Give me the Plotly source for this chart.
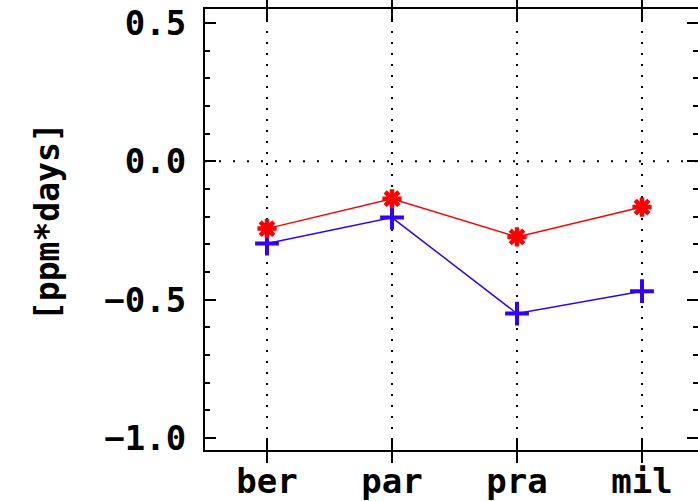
import plotly.graph_objects as go

categories = ["ber", "par", "pra", "mil"]
red_values = [-0.243, -0.135, -0.273, -0.165]
blue_values = [-0.297, -0.203, -0.550, -0.469]
y_tick_vals = [-1.0, -0.5, 0.0, 0.5]
y_tick_text = ["\u22121.0", "\u22120.5", "0.0", "0.5"]

xi = list(range(len(categories)))
FONT = dict(family="DejaVu Sans Mono", size=34, color="black", weight="bold")
BLUE = "#3300ff"
RED = "#ff0000"

fig = go.Figure()
fig.add_trace(go.Scatter(
    x=xi, y=blue_values, mode="lines+markers",
    line=dict(color=BLUE, width=1.5),
    marker=dict(symbol="cross-thin-open", size=17, line=dict(color=BLUE, width=4)),
    showlegend=False, hoverinfo="skip"))
fig.add_trace(go.Scatter(
    x=xi, y=red_values, mode="lines+markers",
    line=dict(color=RED, width=1.5),
    marker=dict(symbol="asterisk-open", size=16, line=dict(color=RED, width=4.5)),
    showlegend=False, hoverinfo="skip"))
# dummy trace to make the right-side tick axis exist
fig.add_trace(go.Scatter(x=xi, y=red_values, yaxis="y2", mode="none",
                         showlegend=False, hoverinfo="skip"))

yrange = [-1.043, 0.5506]
common_y = dict(
    range=yrange, tickmode="array", tickvals=y_tick_vals,
    ticks="inside", ticklen=11, tickwidth=2, tickcolor="black",
    minor=dict(dtick=0.1, tick0=0, ticks="inside", ticklen=5, tickwidth=2, tickcolor="black"),
    showgrid=False, zeroline=False, automargin=False,
)

fig.update_layout(
    width=698, height=501,
    margin=dict(l=205, r=0, t=9, b=51, autoexpand=False),
    paper_bgcolor="white", plot_bgcolor="white",
    font=FONT,
    xaxis=dict(
        range=[-0.496, 3.448], tickmode="array", tickvals=xi, ticktext=categories,
        ticks="inside", ticklen=11, tickwidth=2, tickcolor="black",
        showline=True, linecolor="black", linewidth=2, mirror="allticks",
        showgrid=True, gridcolor="black", gridwidth=2, griddash="2px,9px",
        zeroline=False, ticklabelstandoff=0, tickfont=FONT, automargin=False,
    ),
    yaxis=dict(
        **common_y, ticktext=y_tick_text,
        showline=True, linecolor="black", linewidth=2, mirror=False,
        ticklabelstandoff=10, tickfont=FONT,
    ),
    yaxis2=dict(
        **common_y, overlaying="y", side="right", showline=False,
        showticklabels=False,
    ),
    shapes=[dict(type="line", xref="paper", yref="y", x0=0, x1=1, y0=0, y1=0,
                 line=dict(color="black", width=2, dash="2px,12px"))],
    annotations=[dict(
        text="[ppm*days]", textangle=-90, xref="paper", yref="paper",
        x=(47 - 205) / 493, y=(501 - 51 - 222) / 441, xanchor="center", yanchor="middle",
        showarrow=False, font=dict(family="DejaVu Sans Mono", size=33, color="black", weight="bold"),
    )],
)

fig.write_html("out.html")
